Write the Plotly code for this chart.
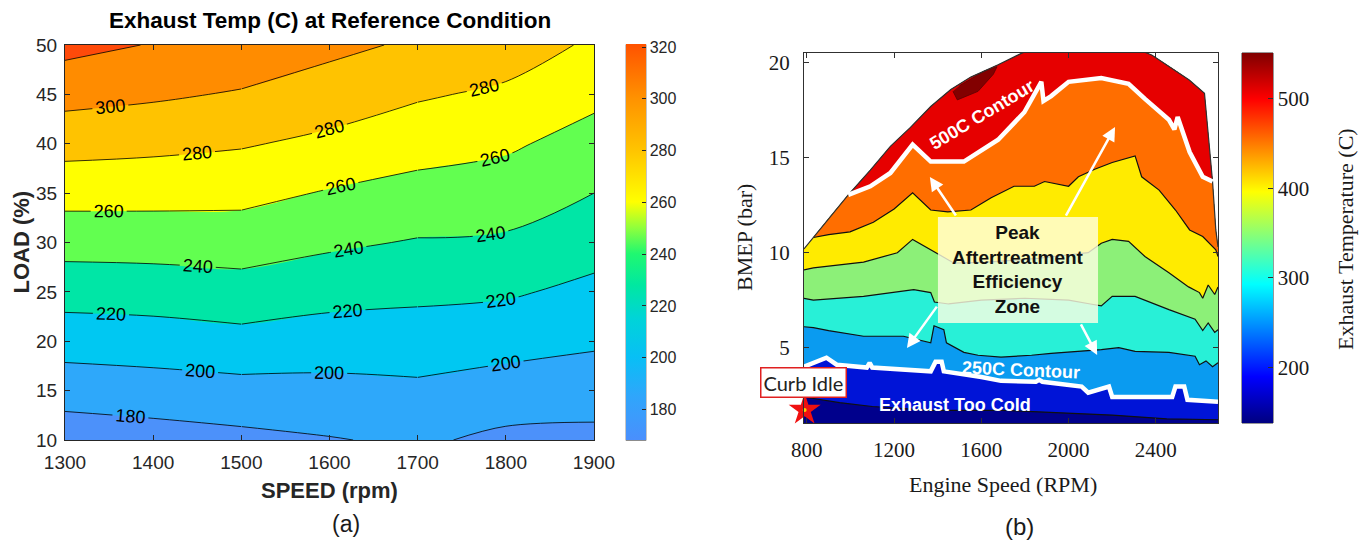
import numpy as np
import plotly.graph_objects as go

W, H = 1368, 540

# ---------------- Panel (a): exhaust temperature over the speed / load grid ----------------
speed_rpm = [1300, 1400, 1500, 1600, 1700, 1800, 1900]
load_pct = [10, 15, 20, 25, 30, 35, 40, 45, 50]

# exhaust temperature (C) for each speed column, load 10 % -> 50 %
temp_1300 = [168.2, 188.6, 208.6, 228.1, 247.5, 267.2, 287.1, 306.7, 326.0]
temp_1400 = [171.4, 191.0, 210.4, 229.3, 248.1, 266.8, 284.8, 302.9, 319.0]
temp_1500 = [175.0, 193.4, 213.6, 232.1, 249.2, 265.7, 281.7, 298.3, 313.8]
temp_1600 = [178.9, 194.2, 210.3, 227.0, 243.3, 258.5, 275.5, 290.6, 304.9]
temp_1700 = [183.0, 196.3, 210.1, 224.3, 238.6, 253.2, 267.8, 282.3, 297.0]
temp_1800 = [175.6, 191.4, 207.1, 222.4, 237.1, 250.1, 263.0, 276.5, 290.0]
temp_1900 = [174.9, 189.0, 202.8, 215.3, 227.7, 240.0, 252.3, 264.8, 277.0]

levels_a = dict(start=180, end=320, size=20)
# fill colour of each band: below 180, 180-200, ..., 300-320, above 320
band_colors_a = ["#4c91fa", "#2ea8fa", "#00c8f2", "#00e6a6", "#62ff50",
                 "#ffff00", "#ffc300", "#ff8c00", "#ff4a0a"]
cbar_a_range = [168, 321]
cbar_a_ticks = [180, 200, 220, 240, 260, 280, 300, 320]
cbar_a_stops = [(168, "#4a8ffd"), (185, "#2fa6fb"), (200, "#08bff5"), (215, "#00d4d8"),
                (228, "#00e8a0"), (240, "#20f870"), (250, "#90ff3c"), (260, "#ffff00"),
                (280, "#ffc400"), (300, "#ff9200"), (321, "#ff5200")]
# speed spans over which contour lines are drawn and labelled separately
label_spans = [(0, 2), (2, 4), (4, 6)]

# ---------------- Panel (b): engine-map exhaust temperature bands ----------------
# outer envelope of the operating map (full-load curve)
env_rpm = [787, 830, 846, 906, 990, 1091, 1183, 1275, 1368, 1460, 1552, 1677, 1783,
           1850, 2300, 2383, 2490, 2553, 2623, 2637, 2660, 2675, 2685]
env_bmep = [10.2, 10.8, 11.05, 11.9, 13.05, 14.35, 15.6, 16.6, 17.7, 18.6, 19.25, 19.9, 20.5,
            20.8, 20.8, 20.4, 19.6, 19.1, 18.4, 16.5, 13.75, 11.2, 10.3]

# band boundaries, lowest to highest temperature
navy_rpm = [787, 950, 1100, 1370, 1700, 1900, 2200, 2450, 2685]
navy_bmep = [2.4, 2.1, 1.9, 1.7, 1.7, 1.6, 1.45, 1.25, 1.2]

c250_rpm = [787, 827, 890, 937, 1075, 1088, 1100, 1368, 1390, 1418, 1428, 1600, 1690,
            1850, 1865, 1880, 2060, 2090, 2150, 2185, 2200, 2475, 2490, 2530, 2545, 2685]
c250_bmep = [4.0, 4.2, 4.47, 4.1, 3.95, 4.2, 3.95, 3.75, 4.25, 4.25, 3.75, 3.45, 3.25,
             3.2, 3.3, 3.2, 2.95, 2.63, 2.8, 2.95, 2.4, 2.4, 2.95, 2.95, 2.25, 2.15]

bc_rpm = [787, 830, 900, 1060, 1243, 1368, 1383, 1428, 1440, 1520, 1585, 1690, 1830,
          1920, 2150, 2230, 2305, 2460, 2580, 2600, 2630, 2660, 2685]
bc_bmep = [6.1, 6.05, 5.9, 5.6, 5.6, 5.25, 6.15, 5.95, 5.25, 4.75, 4.6, 4.5, 4.6,
           4.7, 4.9, 5.0, 4.8, 4.75, 4.55, 4.1, 4.3, 4.0, 4.2]

bd_rpm = [787, 830, 1060, 1290, 1368, 1385, 1450, 1600, 1800, 2000, 2100, 2150,
          2200, 2305, 2460, 2580, 2615, 2640, 2670, 2685]
bd_bmep = [7.6, 7.5, 7.7, 8.05, 7.9, 7.4, 7.3, 7.5, 7.6, 7.5, 7.3, 7.2,
           7.7, 7.7, 7.0, 6.5, 5.9, 6.3, 5.8, 5.95]

be_rpm = [787, 830, 1060, 1215, 1285, 1368, 1475, 1630, 1860, 2090, 2150, 2200,
          2275, 2350, 2460, 2550, 2600, 2615, 2640, 2670, 2685]
be_bmep = [9.1, 9.2, 9.5, 10.0, 10.7, 10.15, 9.45, 9.5, 9.7, 10.0, 10.5, 10.7,
           10.6, 9.8, 8.95, 8.2, 7.9, 7.6, 8.3, 7.8, 8.2]

bf_rpm = [830, 900, 998, 1105, 1200, 1285, 1368, 1446, 1552, 1645, 1750, 1843, 1890,
          2000, 2045, 2120, 2200, 2275, 2305, 2335, 2415, 2490, 2555, 2615, 2675, 2685]
bf_bmep = [10.8, 10.95, 11.1, 11.6, 12.3, 13.15, 12.25, 12.15, 12.25, 12.9, 13.5, 13.5, 13.75,
           13.5, 14.0, 14.4, 14.75, 15.0, 15.1, 14.0, 13.3, 12.25, 11.2, 10.85, 10.15, 9.8]

c500_rpm = [990, 1091, 1183, 1285, 1368, 1520, 1677, 1797, 1875, 1885, 1920, 2000,
            2150, 2275, 2350, 2460, 2485, 2500, 2555, 2615, 2660]
c500_bmep = [13.05, 13.5, 14.2, 15.7, 14.8, 14.8, 15.95, 17.4, 19.0, 18.0, 18.25, 19.0,
             19.2, 18.9, 18.1, 17.0, 16.5, 17.15, 15.3, 14.0, 13.75]

# hottest pocket near the full-load curve
hot_rpm = [1470, 1490, 1585, 1655, 1672, 1610, 1552, 1500]
hot_bmep = [18.5, 18.05, 18.5, 19.4, 19.8, 19.55, 19.15, 18.8]

band_colors_b = ["#00008c", "#0014d7", "#0a9bf0", "#28f0d7", "#8cf078",
                 "#ffeb00", "#ff6e00", "#e60000"]
hot_color = "#820000"

cbar_b_range = [138, 551]
cbar_b_ticks = [200, 300, 400, 500]
jet = [[0.0, "#000080"], [0.125, "#0000ff"], [0.375, "#00ffff"],
       [0.625, "#ffff00"], [0.875, "#ff0000"], [1.0, "#800000"]]

curb_idle_rpm = [790]
curb_idle_bmep = [1.72]

x_range_b = [787, 2685]
y_range_b = [1.03, 20.52]

SANS = "Liberation Sans, Arial, sans-serif"
SERIF = "Liberation Serif, Times New Roman, serif"
INK = "#262626"
NBSP = "\u00a0"


def px(x):
    return x / W


def py(y):
    return 1 - y / H


def stepped(colors):
    n = len(colors) - 1
    scale = []
    for k, c in enumerate(colors):
        lo = max(0.0, (k - 0.5) / n)
        hi = min(1.0, (k + 0.5) / n)
        scale += [[lo, c], [hi, c]]
    return scale


def region_above(b_rpm, b_bmep):
    """Polygon between a band boundary and the map envelope."""
    er = np.array(env_rpm, dtype=float)
    eb = np.array(env_bmep, dtype=float)
    keep = (er >= b_rpm[0]) & (er <= b_rpm[-1])
    xs = list(b_rpm) + list(er[keep][::-1])
    ys = list(b_bmep) + list(eb[keep][::-1])
    return xs, ys


fig = go.Figure()

# ---- panel (a) ----
z_a = np.column_stack([temp_1300, temp_1400, temp_1500, temp_1600,
                       temp_1700, temp_1800, temp_1900])
fig.add_trace(go.Contour(
    x=speed_rpm, y=load_pct, z=z_a,
    autocontour=False,
    contours=dict(start=levels_a["start"], end=levels_a["end"], size=levels_a["size"],
                  coloring="fill", showlines=False),
    colorscale=stepped(band_colors_a),
    line=dict(width=0),
    showscale=False, hoverinfo="skip",
    xaxis="x", yaxis="y",
))

# contour lines with inline labels, one speed span at a time
for i0, i1 in label_spans:
    fig.add_trace(go.Contour(
        x=speed_rpm[i0:i1 + 1], y=load_pct, z=z_a[:, i0:i1 + 1],
        autocontour=False,
        contours=dict(start=levels_a["start"], end=levels_a["end"], size=levels_a["size"],
                      coloring="none", showlines=True, showlabels=True,
                      labelfont=dict(family=SANS, size=18, color="black")),
        line=dict(color="black", width=0.8),
        showscale=False, hoverinfo="skip",
        xaxis="x", yaxis="y",
    ))

# colorbar geometry in pixels: (left, top, width, height)
cbar_a_box = (626, 44.5, 20, 396)
cbar_b_box = (1242, 53, 31, 370)

lo_a, hi_a = cbar_a_range
fig.add_trace(go.Scatter(
    x=[speed_rpm[0]] * 2, y=[load_pct[0]] * 2, mode="markers",
    marker=dict(size=0, opacity=0, color=cbar_a_range, cmin=lo_a, cmax=hi_a,
                colorscale=[[(v - lo_a) / (hi_a - lo_a), c] for v, c in cbar_a_stops],
                showscale=True,
                colorbar=dict(x=px(cbar_a_box[0]), xanchor="left", xpad=0, ypad=0,
                              y=py(cbar_a_box[1]), yanchor="top",
                              len=cbar_a_box[3], lenmode="pixels",
                              thickness=cbar_a_box[2], thicknessmode="pixels",
                              title=dict(text="", side="right"),
                              outlinewidth=0,
                              tickvals=cbar_a_ticks, ticks="inside", ticklen=4,
                              tickcolor=INK, tickprefix=NBSP,
                              tickfont=dict(family=SANS, size=16, color=INK))),
    hoverinfo="skip", showlegend=False, xaxis="x", yaxis="y",
))

# ---- panel (b) ----
base_x = env_rpm + [x_range_b[1], x_range_b[0]]
base_y = env_bmep + [y_range_b[0] - 1, y_range_b[0] - 1]
fig.add_trace(go.Scatter(x=base_x, y=base_y, fill="toself", fillcolor=band_colors_b[0],
                         mode="lines", line=dict(width=0), hoverinfo="skip",
                         showlegend=False, xaxis="x2", yaxis="y2"))

boundaries = [(navy_rpm, navy_bmep), (c250_rpm, c250_bmep), (bc_rpm, bc_bmep),
              (bd_rpm, bd_bmep), (be_rpm, be_bmep), (bf_rpm, bf_bmep),
              (c500_rpm, c500_bmep)]
for (br, bb), col in zip(boundaries, band_colors_b[1:]):
    xs, ys = region_above(br, bb)
    fig.add_trace(go.Scatter(x=xs, y=ys, fill="toself", fillcolor=col, mode="lines",
                             line=dict(width=0), hoverinfo="skip", showlegend=False,
                             xaxis="x2", yaxis="y2"))

fig.add_trace(go.Scatter(x=hot_rpm, y=hot_bmep, fill="toself", fillcolor=hot_color,
                         mode="lines", line=dict(width=0.8, color="#5a0000"),
                         hoverinfo="skip", showlegend=False, xaxis="x2", yaxis="y2"))

# thin dark contour lines
for br, bb in [(navy_rpm, navy_bmep), (bc_rpm, bc_bmep), (bd_rpm, bd_bmep),
               (be_rpm, be_bmep), (bf_rpm, bf_bmep)]:
    fig.add_trace(go.Scatter(x=br, y=bb, mode="lines",
                             line=dict(color="#101010", width=1.2),
                             hoverinfo="skip", showlegend=False, xaxis="x2", yaxis="y2"))
fig.add_trace(go.Scatter(x=env_rpm, y=env_bmep, mode="lines",
                         line=dict(color="#303030", width=1.2),
                         hoverinfo="skip", showlegend=False, xaxis="x2", yaxis="y2"))

# highlighted 250C and 500C contours
for br, bb in [(c250_rpm, c250_bmep), (c500_rpm, c500_bmep)]:
    fig.add_trace(go.Scatter(x=br, y=bb, mode="lines",
                             line=dict(color="white", width=4.5),
                             hoverinfo="skip", showlegend=False, xaxis="x2", yaxis="y2"))

# curb idle point
fig.add_trace(go.Scatter(x=curb_idle_rpm, y=curb_idle_bmep, mode="markers",
                         marker=dict(symbol="star", size=24, color="#f01010",
                                     line=dict(width=0)),
                         cliponaxis=False, hoverinfo="skip", showlegend=False,
                         xaxis="x2", yaxis="y2"))
fig.add_trace(go.Scatter(x=curb_idle_rpm, y=curb_idle_bmep, mode="markers",
                         marker=dict(symbol="circle", size=4, color="#ffd000"),
                         cliponaxis=False, hoverinfo="skip", showlegend=False,
                         xaxis="x2", yaxis="y2"))

lo_b, hi_b = cbar_b_range
fig.add_trace(go.Scatter(
    x=[x_range_b[0] + 100] * 2, y=[y_range_b[0] + 1] * 2, mode="markers",
    marker=dict(size=0, opacity=0, color=cbar_b_range, cmin=lo_b, cmax=hi_b,
                colorscale=jet, showscale=True,
                colorbar=dict(x=px(cbar_b_box[0]), xanchor="left", xpad=0, ypad=0,
                              y=py(cbar_b_box[1]), yanchor="top",
                              len=cbar_b_box[3], lenmode="pixels",
                              thickness=cbar_b_box[2], thicknessmode="pixels",
                              title=dict(text="", side="right"),
                              outlinewidth=0,
                              tickvals=cbar_b_ticks, ticks="inside", ticklen=5,
                              tickcolor="#303030", tickprefix=NBSP * 2,
                              tickfont=dict(family=SERIF, size=21, color="#1a1a1a"))),
    hoverinfo="skip", showlegend=False, xaxis="x2", yaxis="y2",
))

axis_a = dict(showline=True, linecolor=INK, linewidth=1, mirror="allticks",
              ticks="inside", ticklen=5, tickcolor=INK, showgrid=False, zeroline=False,
              tickfont=dict(family=SANS, size=19, color=INK))
axis_b = dict(showline=True, linecolor="#303030", linewidth=1, mirror="allticks",
              ticks="inside", ticklen=5, tickcolor="#303030", showgrid=False, zeroline=False,
              tickfont=dict(family=SERIF, size=21, color="#1a1a1a"))

annotations = [
    dict(text="<b>Exhaust Temp (C) at Reference Condition</b>", x=px(329.5), y=py(21),
         font=dict(family=SANS, size=22.5, color="black")),
    dict(text="<b>LOAD (%)</b>", x=px(21), y=py(242.5), textangle=-90,
         font=dict(family=SANS, size=22, color=INK)),
    dict(text="<b>SPEED (rpm)</b>", x=px(329.5), y=py(490),
         font=dict(family=SANS, size=22, color=INK)),
    dict(text="(a)", x=px(346), y=py(524), font=dict(family=SANS, size=23, color="#1a1a1a")),
    dict(text="BMEP (bar)", x=px(744), y=py(238), textangle=-90,
         font=dict(family=SERIF, size=22, color="#1a1a1a")),
    dict(text="Engine Speed (RPM)", x=px(1003), y=py(484),
         font=dict(family=SERIF, size=22, color="#1a1a1a")),
    dict(text="(b)", x=px(1019), y=py(526), font=dict(family=SANS, size=24, color="#1a1a1a")),
    dict(text="Exhaust Temperature (C)", x=px(1345), y=py(239), textangle=-90,
         font=dict(family=SERIF, size=22, color="#1a1a1a")),
    dict(text="Curb Idle", x=px(803.5), y=py(382), bgcolor="white",
         bordercolor="#e02020", borderwidth=1.5, borderpad=2,
         font=dict(family="Lato, Open Sans, sans-serif", size=20, color="#222222")),
]
for a in annotations:
    a.update(xref="paper", yref="paper", showarrow=False, xanchor="center", yanchor="middle")

annotations += [
    dict(text="<b>500C Contour</b>", x=1601, y=17.26, textangle=-31,
         font=dict(family=SANS, size=18, color="white")),
    dict(text="<b>250C Contour</b>", x=1782, y=3.83, textangle=2.5,
         font=dict(family=SANS, size=18, color="white")),
    dict(text="<b>Exhaust Too Cold</b>", x=1479, y=1.98,
         font=dict(family=SANS, size=18, color="white")),
    dict(text="<b>Peak<br>Aftertreatment<br>Efficiency<br>Zone</b>", x=1766, y=9.09,
         font=dict(family=SANS, size=19, color="#111111")),
]
for a in annotations[-4:]:
    a.update(xref="x2", yref="y2", showarrow=False, xanchor="center", yanchor="middle")

# arrows pointing out of the efficiency-zone box (head, tail)
arrows = [((1364, 13.99), (1488, 11.88)), ((2213, 16.62), (1984, 11.88)),
          ((1259, 4.98), (1401, 7.24)), ((2131, 4.61), (2053, 6.3))]
for (hx, hy), (tx, ty) in arrows:
    annotations.append(dict(x=hx, y=hy, ax=tx, ay=ty, xref="x2", yref="y2",
                            axref="x2", ayref="y2", text="", showarrow=True,
                            arrowhead=2, arrowsize=1.1, arrowwidth=2.5,
                            arrowcolor="white"))

shapes = [dict(type="rect", xref="x2", yref="y2", x0=1401, x1=2135, y0=6.3, y1=11.88,
               fillcolor="rgba(255,255,228,0.80)", line=dict(width=0), layer="above")]
# colorbar frames
for (bx, by, bw, bh), col in [(cbar_a_box, "#8c8c8c"), (cbar_b_box, "#303030")]:
    shapes.append(dict(type="rect", xref="paper", yref="paper",
                       x0=px(bx), x1=px(bx + bw), y0=py(by + bh), y1=py(by),
                       line=dict(color=col, width=1), fillcolor="rgba(0,0,0,0)",
                       layer="above"))

fig.update_layout(
    width=W, height=H, margin=dict(l=0, r=0, t=0, b=0, autoexpand=False),
    paper_bgcolor="white", plot_bgcolor="white", showlegend=False,
    xaxis=dict(axis_a, domain=[px(65), px(594)], range=[1300, 1900],
               tickvals=speed_rpm, anchor="y", ticklabelstandoff=5),
    yaxis=dict(axis_a, domain=[py(440), py(45)], range=[10, 50],
               tickvals=load_pct, anchor="x", ticklabelstandoff=3),
    xaxis2=dict(axis_b, domain=[px(804), px(1218)], range=x_range_b,
                tickvals=[800, 1200, 1600, 2000, 2400], anchor="y2", ticklabelstandoff=8),
    yaxis2=dict(axis_b, domain=[py(423), py(53)], range=y_range_b,
                tickvals=[5, 10, 15, 20], anchor="x2", ticklabelstandoff=9),
    annotations=annotations, shapes=shapes,
)

fig.write_html("out.html")
